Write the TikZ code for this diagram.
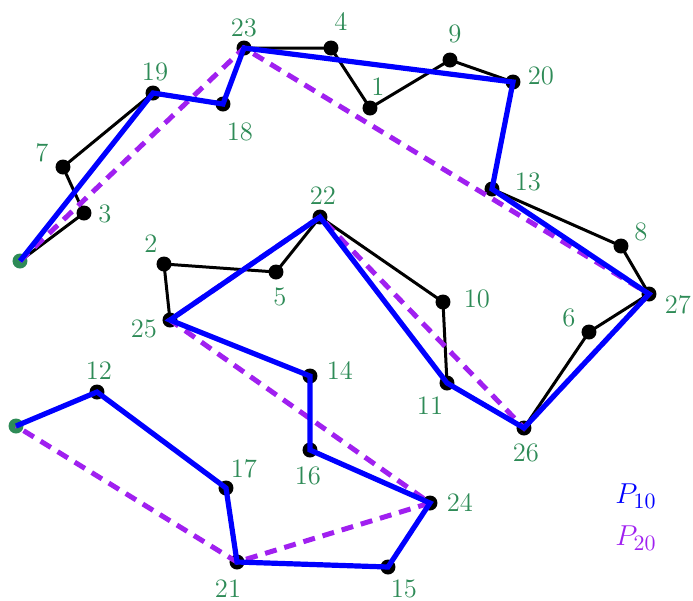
\documentclass[tikz,border=0pt]{standalone}
\usepackage{tikz}
\definecolor{lblgreen}{RGB}{46,139,87}
\definecolor{ppurple}{RGB}{160,32,240}
\tikzset{
  blk/.style={line width=1.5pt,black},
  bluepath/.style={line width=2.6pt,blue,line join=miter},
  purppath/.style={line width=2.5pt,ppurple,dash pattern=on 6pt off 4pt},
  dotnode/.style={circle,fill=black,inner sep=0pt,minimum size=7.5pt},
  enddot/.style={circle,fill=lblgreen,inner sep=0pt,minimum size=7.5pt},
  lbl/.style={text=lblgreen,inner sep=0pt,font=\fontsize{13.3}{15}\selectfont},
}
\begin{document}
\begin{tikzpicture}[x=0.5pt,y=-0.5pt]
\useasboundingbox (0,0) rectangle (693,601);
% points
\coordinate (s) at (20,261);
\coordinate (e) at (16,426);
\coordinate (p1) at (370,108);
\coordinate (p2) at (164,264);
\coordinate (p3) at (84,213);
\coordinate (p4) at (331,48);
\coordinate (p5) at (276,272);
\coordinate (p6) at (589,332);
\coordinate (p7) at (63,167);
\coordinate (p8) at (621,246);
\coordinate (p9) at (450,60);
\coordinate (p10) at (443,302);
\coordinate (p11) at (447,383);
\coordinate (p12) at (97,392);
\coordinate (p13) at (492,189);
\coordinate (p14) at (310,376);
\coordinate (p15) at (388,567);
\coordinate (p16) at (310,450);
\coordinate (p17) at (226,488);
\coordinate (p18) at (223,104);
\coordinate (p19) at (153,93);
\coordinate (p20) at (513,82);
\coordinate (p21) at (237,562);
\coordinate (p22) at (320,217);
\coordinate (p23) at (244,48);
\coordinate (p24) at (430,503);
\coordinate (p25) at (170,320);
\coordinate (p26) at (524,428);
\coordinate (p27) at (649,294);
% full path
\draw[blk] (s) -- (p3) -- (p7) -- (p19) -- (p18) -- (p23) -- (p4) -- (p1) -- (p9) -- (p20) -- (p13) -- (p8) -- (p27) -- (p6) -- (p26) -- (p11) -- (p10) -- (p22) -- (p5) -- (p2) -- (p25) -- (p14) -- (p16) -- (p24) -- (p15) -- (p21) -- (p17) -- (p12) -- (e);
% dots
\foreach \i in {1,...,27} { \node[dotnode] (d\i) at (p\i) {}; }
\node[enddot] (ds) at (s) {};
\node[enddot] (de) at (e) {};
% P20
\draw[purppath] (s) -- (p23) -- (p27) -- (p26) -- (p22) -- (p25) -- (p24) -- (p21) -- (e);
% P10
\draw[bluepath] (s) -- (p19) -- (p18) -- (p23) -- (p20) -- (p13) -- (p27) -- (p26) -- (p11) -- (p22) -- (p25) -- (p14) -- (p16) -- (p24) -- (p15) -- (p21) -- (p17) -- (p12) -- (e);
% labels
\node[lbl] (l23) at (244,28) {23};
\node[lbl] (l4) at (341,22) {4};
\node[lbl] (l1) at (378,87) {1};
\node[lbl] (l9) at (455,34) {9};
\node[lbl] (l20) at (541,76) {20};
\node[lbl] (l19) at (155,72) {19};
\node[lbl] (l18) at (240,132) {18};
\node[lbl] (l7) at (42,153) {7};
\node[lbl] (l3) at (105,214) {3};
\node[lbl] (l13) at (528,182) {13};
\node[lbl] (l8) at (641,232) {8};
\node[lbl] (l27) at (678,305) {27};
\node[lbl] (l22) at (323,196) {22};
\node[lbl] (l2) at (151,244) {2};
\node[lbl] (l5) at (280,297) {5};
\node[lbl] (l10) at (477,299) {10};
\node[lbl] (l6) at (569,318) {6};
\node[lbl] (l25) at (144,329) {25};
\node[lbl] (l14) at (340,371) {14};
\node[lbl] (l11) at (430,406) {11};
\node[lbl] (l26) at (526,453) {26};
\node[lbl] (l12) at (99,371) {12};
\node[lbl] (l16) at (308,476) {16};
\node[lbl] (l17) at (244,469) {17};
\node[lbl] (l24) at (460,503) {24};
\node[lbl] (l21) at (228,589) {21};
\node[lbl] (l15) at (404,589) {15};
% legend
\node[inner sep=0pt,text=blue,font=\fontsize{15}{17}\selectfont] (leg10) at (636,496) {$P_{10}$};
\node[inner sep=0pt,text=ppurple,font=\fontsize{15}{17}\selectfont] (leg20) at (636,538) {$P_{20}$};
\end{tikzpicture}
\end{document}
